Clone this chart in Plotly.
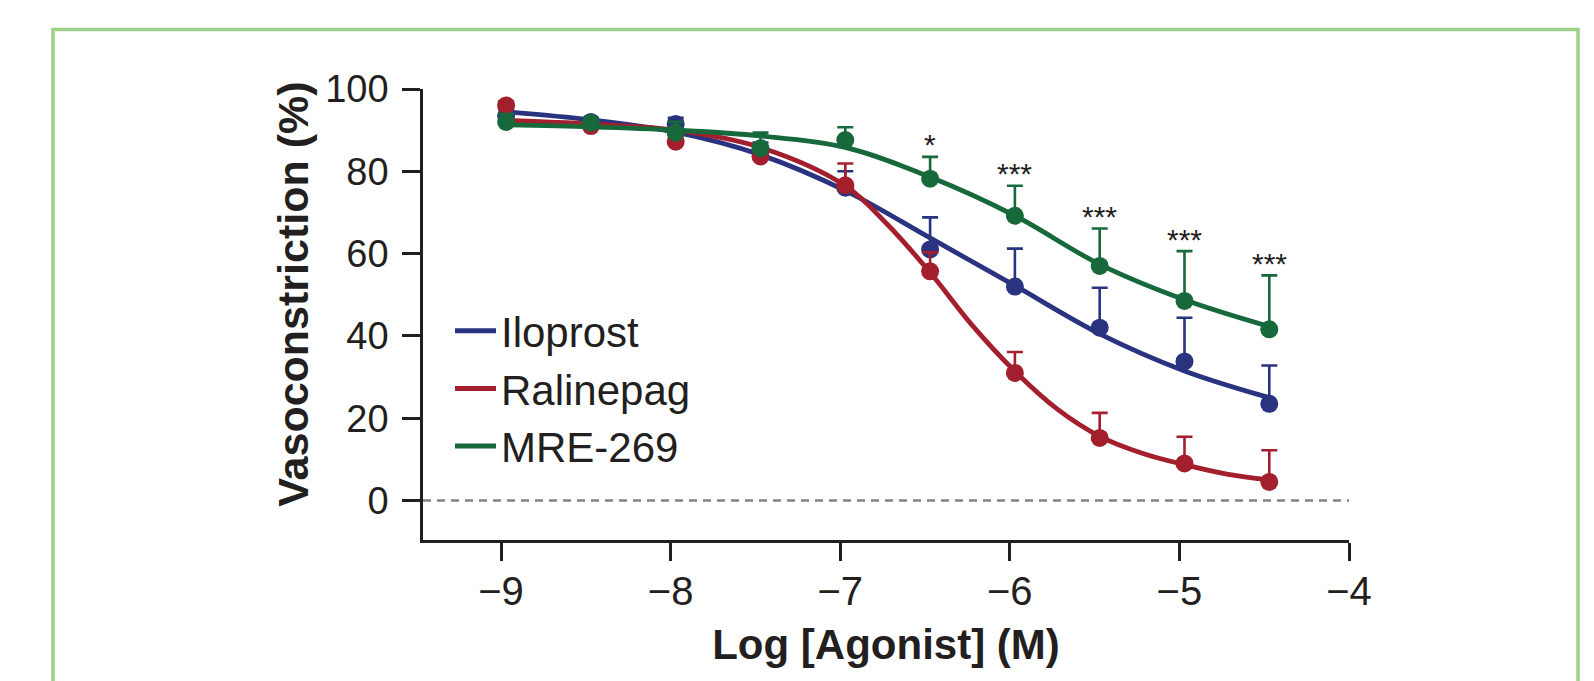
import plotly.graph_objects as go

# ---------------- data ----------------
log_conc = [-8.97, -8.47, -7.97, -7.47, -6.97, -6.47, -5.97, -5.47, -4.97, -4.47]

ilo_mean = [93.5, 92.0, 91.5, 85.0, 76.0, 61.0, 52.0, 42.0, 33.8, 23.5]
ilo_err = [1.5, 1.0, 1.5, 2.0, 4.0, 7.8, 9.2, 9.7, 10.6, 9.3]

ral_mean = [96.0, 91.0, 87.2, 83.6, 76.6, 55.7, 31.0, 15.2, 9.0, 4.5]
ral_err = [1.0, 1.0, 1.5, 2.0, 5.3, 4.6, 5.1, 6.1, 6.5, 7.7]

mre_mean = [92.0, 91.8, 89.4, 85.6, 87.6, 78.2, 69.2, 57.0, 48.5, 41.6]
mre_err = [2.0, 1.0, 2.6, 3.8, 3.1, 5.3, 7.3, 9.1, 12.1, 13.1]

# fitted curves
ilo_fit_x = [-8.97, -8.47, -7.97, -7.47, -6.97, -6.47, -5.97, -5.47, -4.97, -4.47]
ilo_fit_y = [94.5, 92.5, 89.5, 84.0, 75.3, 63.8, 52.2, 40.5, 31.5, 25.0]

ral_fit_x = [-8.97, -8.47, -7.97, -7.47, -6.97, -6.72, -6.47, -6.22, -5.97, -5.72,
             -5.47, -5.22, -4.97, -4.72, -4.47]
ral_fit_y = [92.4, 91.5, 90.0, 85.8, 76.5, 67.0, 55.4, 42.5, 31.4, 22.2,
             15.6, 11.5, 8.7, 6.4, 5.0]

mre_fit_x = [-8.97, -8.47, -7.97, -7.47, -6.97, -6.47, -5.97, -5.47, -4.97, -4.47]
mre_fit_y = [91.3, 90.8, 90.0, 88.6, 85.8, 78.6, 69.2, 57.4, 48.8, 42.3]

sig_labels = ["", "", "", "", "", "*", "***", "***", "***", "***"]

x_ticks = [-9, -8, -7, -6, -5, -4]
y_ticks = [0, 20, 40, 60, 80, 100]

series = [
    ("Iloprost", "#29337f", ilo_fit_x, ilo_fit_y, ilo_mean, ilo_err),
    ("Ralinepag", "#a31f2e", ral_fit_x, ral_fit_y, ral_mean, ral_err),
    ("MRE-269", "#17683a", mre_fit_x, mre_fit_y, mre_mean, mre_err),
]

FONT = "Liberation Sans, Arial, Helvetica, sans-serif"
INK = "#231f20"

# page body has an 8px margin: figure is drawn 8px right/down
W, H = 1586, 673
L, T, R, B = 415, 81, 245, 141
PW = W - L - R
PH = H - T - B


def px_x(p):  # window pixel -> paper x
    return (p - 8 - L) / PW


def px_y(p):  # window pixel -> paper y
    return (H - B - (p - 8)) / PH


fig = go.Figure()

for name, color, fx, fy, m, e in series:
    fig.add_trace(go.Scatter(
        x=fx, y=fy, mode="lines", line=dict(color=color, width=4.8, shape="spline"),
        showlegend=False, hoverinfo="skip"))
    fig.add_trace(go.Scatter(
        x=log_conc, y=m, mode="markers",
        marker=dict(color=color, size=18, line=dict(width=0)),
        error_y=dict(type="data", array=e, arrayminus=[0] * len(e), symmetric=False,
                     color=color, thickness=2.6, width=8),
        showlegend=False, name=name, cliponaxis=False))

# legend entries (line only)
for name, color, *_ in series:
    fig.add_trace(go.Scatter(x=[None], y=[None], mode="lines", name=name,
                             line=dict(color=color, width=5)))

# zero line
fig.add_shape(type="line", xref="paper", x0=0, x1=1, yref="y", y0=0, y1=0,
              line=dict(color="#808285", width=2.5, dash="8px,6px"), layer="below")

# green frame
fig.add_shape(type="rect", xref="paper", yref="paper",
              x0=px_x(53), x1=px_x(1578), y0=px_y(720), y1=px_y(29.5),
              line=dict(color="#9fd08a", width=3.5), fillcolor="rgba(0,0,0,0)")

# significance marks
for xv, m, e, lab in zip(log_conc, mre_mean, mre_err, sig_labels):
    if lab:
        fig.add_annotation(x=xv, y=m + e, text=lab, showarrow=False,
                           yanchor="middle", yshift=12,
                           font=dict(family=FONT, size=30, color=INK))

# y-axis title (centred on 0-100 range)
fig.add_annotation(xref="paper", x=px_x(293), yref="y", y=50, xanchor="center",
                   yanchor="middle",
                   text="<b>Vasoconstriction (%)</b>", textangle=-90, showarrow=False,
                   font=dict(family=FONT, size=43, color=INK))

fig.update_layout(
    width=W, height=H,
    margin=dict(l=L, r=R, t=T, b=B),
    paper_bgcolor="white", plot_bgcolor="white",
    showlegend=True,
    legend=dict(x=px_x(450), y=px_y(297), xanchor="left", yanchor="top",
                font=dict(family=FONT, size=42, color=INK),
                bgcolor="rgba(0,0,0,0)", tracegroupgap=0, itemwidth=41),
    xaxis=dict(range=[-9.46, -4], tickvals=x_ticks, showline=True, linecolor=INK,
               linewidth=2.5, ticks="outside", ticklen=18, tickwidth=2.5, tickcolor=INK,
               showgrid=False, zeroline=False, ticklabelstandoff=-4,
               tickfont=dict(family=FONT, size=40, color=INK),
               title=dict(text="<b>Log [Agonist] (M)</b>", standoff=18,
                          font=dict(family=FONT, size=42, color=INK))),
    yaxis=dict(range=[-9.6, 100], tickvals=y_ticks, showline=True, linecolor=INK,
               linewidth=2.5, ticks="outside", ticklen=18, tickwidth=2.5, tickcolor=INK,
               showgrid=False, zeroline=False, ticklabelstandoff=6,
               tickfont=dict(family=FONT, size=38, color=INK)),
)

fig.write_html("out.html")
